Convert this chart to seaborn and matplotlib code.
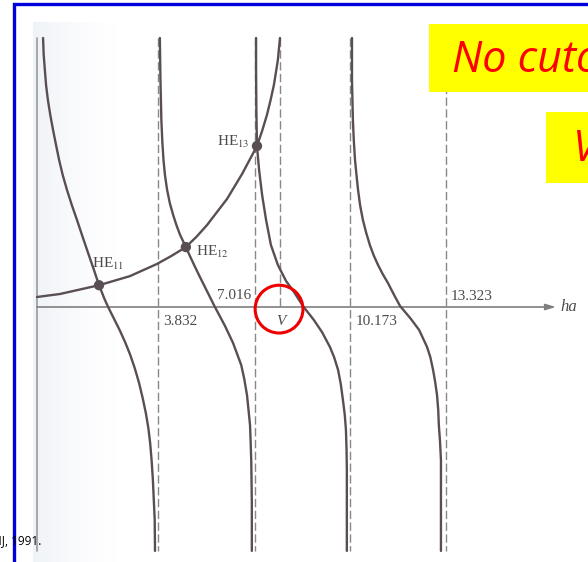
import numpy as np
import pandas as pd
import seaborn as sns
import matplotlib
matplotlib.use("Agg")
from matplotlib import pyplot as plt
from matplotlib.patches import Rectangle, Circle

sns.set_style("white")
plt.rcParams['font.family'] = ['Liberation Serif', 'DejaVu Serif']
plt.rcParams['mathtext.fontset'] = 'stix'

# zeros of J1 on the ha axis and the V line
cutoffs = [3.832, 7.016, 10.173, 13.323]
cutoff_labels = ["3.832", "7.016", "10.173", "13.323"]
V = 7.85

# left hand side branches (x in ha, y arbitrary units)
b1_x = [0.02, 0.04, 0.08, 0.12, 0.18, 0.26, 0.35, 0.45, 0.55, 0.67, 0.81, 0.97, 1.14, 1.32, 1.50, 1.69,
        1.87, 2.04, 2.17, 2.36, 2.56, 2.74, 2.90, 3.05, 3.19, 3.31, 3.42, 3.50, 3.56, 3.61, 3.65, 3.68,
        3.71, 3.72]
b1_y = [8.89, 8.35, 7.83, 7.33, 6.84, 6.34, 5.85, 5.35, 4.86, 4.36, 3.87, 3.37, 2.88, 2.34, 1.81, 1.26,
        0.72, 0.29, 0.0, -0.38, -0.78, -1.18, -1.58, -2.02, -2.50, -3.00, -3.52, -4.00, -4.50, -5.10, -5.72, -6.38,
        -7.04, -8.06]

b2_x = [3.88, 3.90, 3.93, 3.96, 4.00, 4.05, 4.12, 4.21, 4.32, 4.43, 4.55, 4.74, 4.88, 5.04, 5.20, 5.37,
        5.53, 5.70, 6.03, 6.30, 6.57, 6.67, 6.76, 6.81, 6.86, 6.88, 6.90, 6.91, 6.92, 6.92]
b2_y = [8.89, 7.50, 6.18, 5.50, 4.86, 4.35, 3.87, 3.43, 3.04, 2.70, 2.38, 1.98, 1.67, 1.33, 1.00, 0.66,
        0.34, 0.0, -0.62, -1.19, -1.92, -2.38, -2.91, -3.40, -3.90, -4.45, -5.06, -5.70, -6.50, -8.06]

b3_x = [7.06, 7.06, 7.07, 7.09, 7.16, 7.26, 7.39, 7.55, 7.78, 8.05, 8.31, 8.61, 8.97, 9.24, 9.50, 9.64,
        9.77, 9.86, 9.93, 9.99, 10.03, 10.05, 10.06, 10.06, 10.06]
b3_y = [8.89, 7.80, 6.50, 5.32, 4.53, 3.70, 2.88, 2.05, 1.39, 0.86, 0.50, 0.03, -0.43, -0.83, -1.32, -1.66,
        -2.08, -2.55, -3.07, -3.55, -4.06, -4.70, -5.39, -6.71, -8.06]

b4_x = [10.23, 10.23, 10.26, 10.29, 10.33, 10.38, 10.43, 10.50, 10.59, 10.70, 10.82, 10.95, 11.09, 11.25,
        11.42, 11.62, 11.82, 12.15, 12.45, 12.71, 12.82, 12.91, 12.98, 13.04, 13.08, 13.10, 13.14, 13.17,
        13.17, 13.17]
b4_y = [8.89, 7.50, 6.18, 5.50, 4.86, 4.35, 3.87, 3.35, 2.88, 2.45, 2.05, 1.70, 1.39, 1.08,
        0.79, 0.40, 0.03, -0.36, -0.76, -1.32, -1.66, -2.08, -2.48, -2.91, -3.40, -3.90, -4.45, -5.06,
        -6.71, -8.06]

# right hand side curve (rises towards V)
rhs_x = [-0.18, 0.58, 1.87, 2.89, 3.78, 4.25, 4.74, 5.10, 5.44, 6.10, 6.60, 7.09, 7.26, 7.42, 7.54, 7.65,
         7.78, 7.85]
rhs_y = [0.33, 0.43, 0.72, 1.02, 1.42, 1.68, 1.98, 2.33, 2.71, 3.57, 4.40, 5.32, 5.82, 6.35, 6.84, 7.34,
         8.16, 8.89]

# mode solutions
he_x = [1.87, 4.74, 7.09]
he_y = [0.72, 1.98, 5.32]
he_labels = ["HE$_{11}$", "HE$_{12}$", "HE$_{13}$"]

y_top, y_bot = 8.89, -8.06
x_left = -0.18

frames = []
for i, (bx, by) in enumerate([(b1_x, b1_y), (b2_x, b2_y), (b3_x, b3_y), (b4_x, b4_y), (rhs_x, rhs_y)]):
    frames.append(pd.DataFrame({'ha': bx, 'y': by, 'branch': i}))
df = pd.concat(frames, ignore_index=True)

line_col = '#584e53'
dash_col = '#888888'
text_col = '#4a4a4a'

fig = plt.figure(figsize=(5.88, 5.62), dpi=100)
ax = fig.add_axes([0, 0, 1, 1])
ax.set_xlim(-1.403, 18.03)
ax.set_ylim(-8.427, 10.145)
ax.axis('off')

# faint scan shading on the left
grad = np.linspace(0, 1, 64)[None, :]
shade = np.ones((1, 64, 4))
shade[..., 0] = 0.90
shade[..., 1] = 0.92
shade[..., 2] = 0.95
shade[..., 3] = (1 - grad) ** 1.5 * 0.6
ax.imshow(shade, extent=[-0.3, 2.6, -8.427, 9.4], aspect='auto', zorder=0)

# dashed asymptotes
for c in cutoffs:
    ax.plot([c, c], [y_top, y_bot], color=dash_col, lw=1.0, ls=(0, (6, 2.5)), zorder=1)
ax.plot([V, V], [y_top, 0], color=dash_col, lw=1.0, ls=(0, (6, 2.5)), zorder=1)

# left edge line and ha axis
ax.plot([x_left, x_left], [y_top, y_bot], color='#9a9a9a', lw=1.2, zorder=1)
ax.annotate('', xy=(16.97, 0), xytext=(x_left, 0),
            arrowprops=dict(arrowstyle='-|>,head_length=0.6,head_width=0.18',
                            lw=1.2, color='#7f7f7f', shrinkA=0, shrinkB=0), zorder=1)
ax.text(17.12, 0, 'ha', style='italic', fontsize=12, color=text_col, ha='left', va='center')

sns.lineplot(data=df, x='ha', y='y', units='branch', estimator=None, sort=False,
             color=line_col, lw=1.7, ax=ax, legend=False, zorder=3)
sns.scatterplot(x=he_x, y=he_y, color=line_col, s=55, edgecolor='none', ax=ax, zorder=4)
ax.axis('off')

# mode labels
offs = [((-7, 21), 'left'), ((10, -5), 'left'), ((-7, 4), 'right')]
for x, y, lab, (o, h) in zip(he_x, he_y, he_labels, offs):
    ax.annotate(lab, (x, y), xytext=o, textcoords='offset pixels', ha=h, va='center',
                fontsize=11, color=text_col)

# tick values
tick_offs = [((5, -15), 'left'), ((-3, 11), 'right'), ((5, -15), 'left'), ((5, 10), 'left')]
for c, lab, (o, h) in zip(cutoffs, cutoff_labels, tick_offs):
    ax.annotate(lab, (c, 0), xytext=o, textcoords='offset pixels', ha=h, va='center',
                fontsize=11, color=text_col)
ax.annotate('V', (V, 0), xytext=(1, -15), textcoords='offset pixels', ha='center', va='center',
            fontsize=11, style='italic', color=text_col)

# red circle round V
ax.add_patch(Circle((7.82, -0.07), 0.79, fill=False, ec='#ee0000', lw=2.2, zorder=5))

# slide decorations
fig.add_artist(Rectangle((14 / 588, -0.1), 1.2, 1.1 - 5 / 562 + 0.001, transform=fig.transFigure,
                         fill=False, ec='#0000dd', lw=2.4))
fig.add_artist(Rectangle((429 / 588, 1 - 92 / 562), 0.4, 68 / 562, transform=fig.transFigure,
                         fc='#ffff00', ec='none'))
fig.add_artist(Rectangle((546 / 588, 1 - 183 / 562), 0.2, 71 / 562, transform=fig.transFigure,
                         fc='#ffff00', ec='none'))
fig.text(452 / 588, 1 - 72 / 562, 'No cutoff', fontsize=31, style='italic', color='#ff0000',
         family=['Open Sans', 'DejaVu Sans'], va='baseline')
fig.text(573 / 588, 1 - 161 / 562, 'V', fontsize=31, style='italic', color='#ff0000',
         family=['Open Sans', 'DejaVu Sans'], va='baseline')
fig.text(41 / 588, 1 - 541 / 562, 'NJ, 1991.', fontsize=8.5, color='black',
         family=['Open Sans', 'DejaVu Sans'], ha='right', va='center')

fig.savefig('out.png', dpi=100)
